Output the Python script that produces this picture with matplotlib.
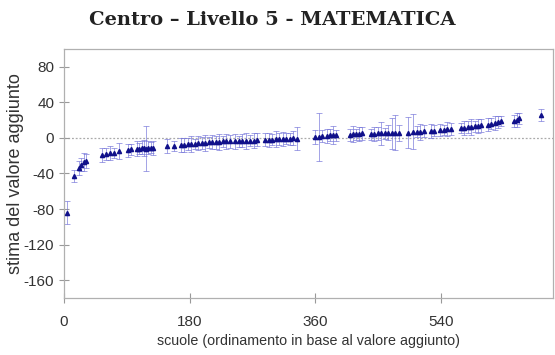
import numpy as np
import matplotlib.pyplot as plt

plt.rcParams['axes.unicode_minus'] = False

# schools (rank position), estimated value added, half-width of the interval
scuole = [4, 15, 22, 25, 28, 31,
          54, 60, 66, 72, 79, 92, 96,
          104, 108, 111, 114, 117, 120, 124, 128,
          147, 158, 168,
          172, 177, 182, 187, 192, 197, 202, 207, 212, 217, 222, 227, 232, 237,
          245, 250, 255, 260, 266, 272, 277,
          288, 293, 298, 303, 308, 313, 318, 323, 328, 334,
          360, 365, 370, 377, 381, 385, 389,
          410, 414, 418, 422, 427,
          439, 444, 449, 454, 459, 464, 469, 474, 479,
          492, 499, 505, 510, 515, 525, 530,
          539, 544, 549, 554,
          568, 573, 578, 583, 588, 593, 597,
          607, 612, 617, 622, 626,
          644, 648, 652, 683]
stima = [-84, -43, -34, -30, -27, -26,
         -19, -18, -17, -17, -15, -14, -13,
         -12, -12, -11, -11, -12, -11, -11, -11,
         -9, -9, -8,
         -8, -7, -7, -7, -6, -6, -6, -5, -5, -5, -5, -4, -4, -4,
         -4, -4, -3, -3, -3, -3, -2,
         -2, -2, -2, -1, -1, -1, -1, -1, 0, -1,
         1, 1, 2, 2, 3, 3, 3,
         3, 4, 4, 4, 5,
         4, 4, 5, 5, 5, 6, 5, 6, 6,
         6, 7, 7, 7, 8, 8, 8,
         9, 9, 10, 10,
         11, 11, 12, 12, 13, 13, 14,
         15, 16, 17, 18, 19,
         19, 20, 22, 26]
errore = [13, 7, 8, 7, 10, 8,
          8, 7, 8, 6, 9, 7, 6,
          8, 6, 7, 9, 25, 7, 6, 8,
          8, 6, 8,
          8, 7, 9, 6, 8, 7, 9, 6, 8, 7, 9, 6, 8, 7,
          8, 6, 7, 9, 6, 8, 7,
          7, 8, 6, 9, 7, 8, 6, 7, 8, 13,
          8, 27, 7, 8, 7, 10, 6,
          7, 9, 6, 8, 7,
          6, 8, 7, 13, 6, 8, 17, 20, 9,
          17, 20, 6, 9, 7, 8, 6,
          7, 6, 8, 7,
          6, 8, 7, 9, 6, 8, 7,
          7, 6, 8, 7, 6,
          7, 8, 6, 7]

fig = plt.figure(figsize=(5.55, 3.55), dpi=100)
ax = fig.add_axes([0.1153, 0.1606, 0.881, 0.7014])

ax.axhline(0, color='#aaaaaa', lw=0.9, ls=(0, (1.5, 1.5)), zorder=1)
ax.errorbar(scuole, stima, yerr=errore, fmt='none', ecolor='#7070d8',
            elinewidth=0.6, capsize=2, capthick=0.6, alpha=0.75, zorder=2)
ax.plot(scuole, stima, ls='none', marker='^', ms=3, color='#10108a', zorder=3)

ax.set_xlim(0, 700)
ax.set_ylim(-180, 100)
ax.set_xticks([0, 180, 360, 540])
ax.set_yticks([80, 40, 0, -40, -80, -120, -160])

for s in ax.spines.values():
    s.set_color('#b0b0b0')
    s.set_linewidth(0.9)
ax.tick_params(direction='inout', length=7, width=0.8, color='#999999',
               labelcolor='#333333', labelsize=11)
ax.tick_params(axis='x', pad=9)
for lab in ax.get_xticklabels() + ax.get_yticklabels():
    lab.set_family('Liberation Sans')

ax.set_xlabel('scuole (ordinamento in base al valore aggiunto)',
              family='Liberation Sans', fontsize=10.3, color='#333333', labelpad=3)
ax.set_ylabel('stima del valore aggiunto', family='Liberation Sans',
              fontsize=13, color='#333333', labelpad=0)

fig.text(0.49, 0.944, 'Centro – Livello 5 - MATEMATICA', ha='center', va='center',
         family='DejaVu Serif', weight='bold', fontsize=14, color='#222222')

fig.savefig('out.png', dpi=100)
